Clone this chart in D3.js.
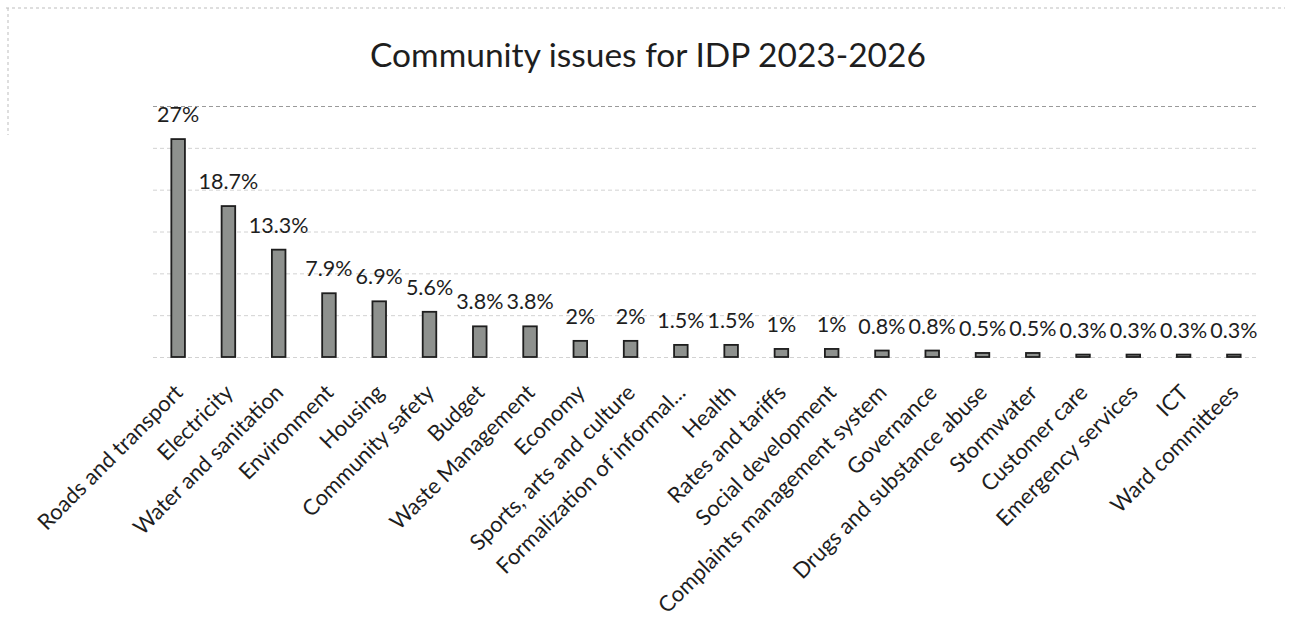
<!DOCTYPE html>
<html>
<head>
<meta charset="utf-8">
<script src="https://cdn.jsdelivr.net/npm/d3@7"></script>
<style>
  html, body { margin: 0; padding: 0; background: #fff; }
  svg { display: block; }
  text { font-family: Lato, "Open Sans", sans-serif; fill: #1e1e1e; }
</style>
</head>
<body>
<svg id="chart" width="1291" height="617"></svg>
<script>
// Share of community issues raised (percent of all submissions)
const categories = [
  "Roads and transport", "Electricity", "Water and sanitation", "Environment",
  "Housing", "Community safety", "Budget", "Waste Management", "Economy",
  "Sports, arts and culture", "Formalization of informal...", "Health",
  "Rates and tariffs", "Social development", "Complaints management system",
  "Governance", "Drugs and substance abuse", "Stormwater", "Customer care",
  "Emergency services", "ICT", "Ward committees"
];
const values = [27, 18.7, 13.3, 7.9, 6.9, 5.6, 3.8, 3.8, 2, 2, 1.5, 1.5,
                1, 1, 0.8, 0.8, 0.5, 0.5, 0.3, 0.3, 0.3, 0.3];
const valueLabels = ["27%", "18.7%", "13.3%", "7.9%", "6.9%", "5.6%", "3.8%", "3.8%",
                     "2%", "2%", "1.5%", "1.5%", "1%", "1%", "0.8%", "0.8%",
                     "0.5%", "0.5%", "0.3%", "0.3%", "0.3%", "0.3%"];
const title = "Community issues for IDP 2023-2026";
const yMax = 31.1;      // top of the value axis
const gridCount = 6;    // number of gridline intervals

const data = categories.map((c, i) => ({ cat: c, val: values[i], lab: valueLabels[i] }));

const svg = d3.select("#chart");
const plot = { left: 153, right: 1259, top: 106, bottom: 357 };

// frame of the chart area
const frame = svg.append("g").attr("stroke", "#bdbdbd").attr("stroke-dasharray", "3,3").attr("fill", "none");
frame.append("line").attr("x1", 6).attr("x2", 1285).attr("y1", 8).attr("y2", 8);
frame.append("line").attr("x1", 8).attr("x2", 8).attr("y1", 8).attr("y2", 135);

const x = d3.scaleBand().domain(categories).range([plot.left, plot.right]).paddingInner(0.73).paddingOuter(0.365);
const y = d3.scaleLinear().domain([0, yMax]).range([plot.bottom, plot.top]);

// gridlines
const gridVals = d3.range(0, gridCount + 1).map(i => i * yMax / gridCount);
svg.append("g")
  .call(d3.axisLeft(y).tickValues(gridVals).tickSize(-(plot.right - plot.left)).tickFormat(""))
  .attr("transform", `translate(${plot.left},0)`)
  .call(g => g.select(".domain").remove())
  .call(g => g.selectAll(".tick line")
    .attr("stroke", (d, i) => i === gridCount ? "#9a9a9a" : "#d2d2d2")
    .attr("stroke-dasharray", "4,3")
    .attr("stroke-width", 1));

// title
svg.append("text")
  .attr("x", 648).attr("y", 67)
  .attr("text-anchor", "middle")
  .style("font-size", "33.5px")
  .text(title);

// bars
svg.append("g").selectAll("rect")
  .data(data).join("rect")
  .attr("x", d => x(d.cat))
  .attr("y", d => y(d.val))
  .attr("width", x.bandwidth())
  .attr("height", d => y(0) - y(d.val))
  .attr("fill", "#8e918e")
  .attr("stroke", "#1e1e1e")
  .attr("stroke-width", 1.8);

// value labels
svg.append("g").selectAll("text")
  .data(data).join("text")
  .attr("x", d => x(d.cat) + x.bandwidth() / 2)
  .attr("y", d => y(d.val) - 17)
  .attr("text-anchor", "middle")
  .style("font-size", "21.5px")
  .text(d => d.lab);

// category axis labels
svg.append("g").selectAll("text")
  .data(data).join("text")
  .attr("transform", d => `translate(${x(d.cat) + x.bandwidth() / 2 + 6},${plot.bottom + 37}) rotate(-45)`)
  .attr("text-anchor", "end")
  .style("font-size", "22px")
  .text(d => d.cat);
</script>
</body>
</html>
